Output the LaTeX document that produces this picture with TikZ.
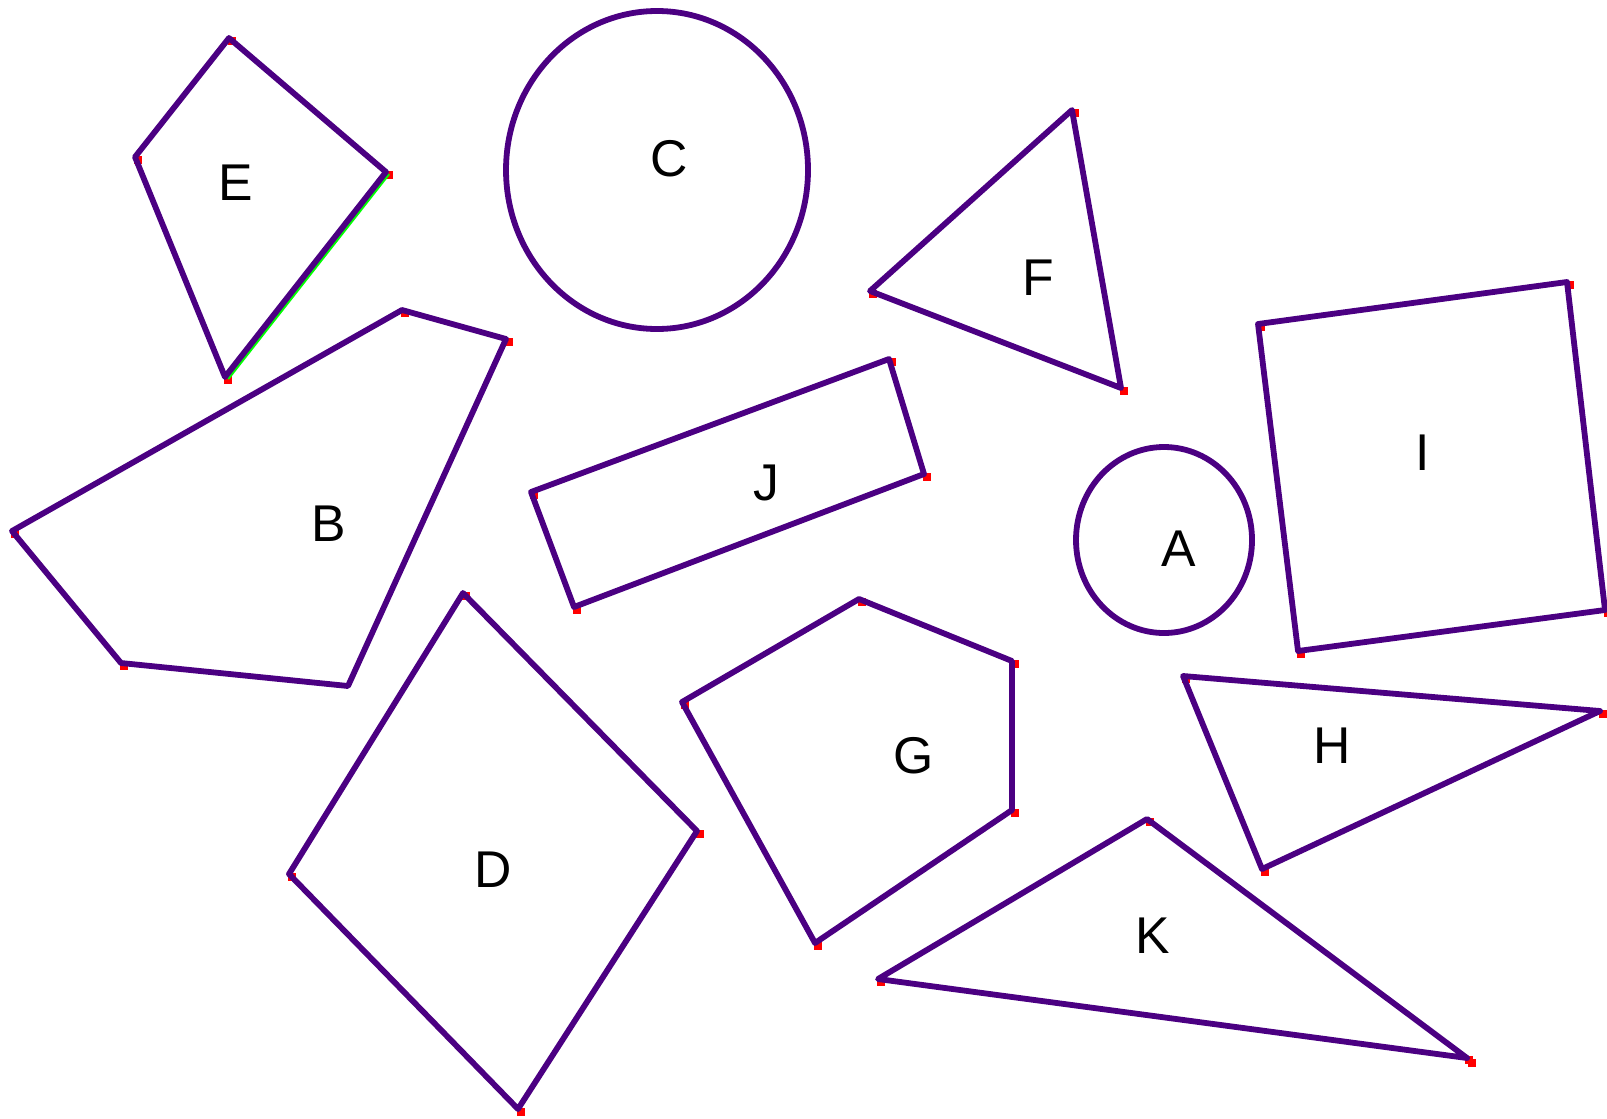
\documentclass[tikz,border=0pt]{standalone}
\usepackage{fontspec}
\setmainfont{Liberation Sans}
\definecolor{edgeviolet}{HTML}{4B0082}
\definecolor{markred}{HTML}{FF0000}
\definecolor{hilite}{HTML}{00FF00}
\tikzset{
  outline/.style={draw=edgeviolet, line width=1.65pt, line join=round},
  vmark/.style={fill=markred},
  tag/.style={font=\fontsize{14.7}{16}\selectfont, inner sep=0pt}
}

\begin{document}
\begin{tikzpicture}[x=0.01cm, y=-0.01cm]
    \useasboundingbox (0,0) rectangle (1607,1118);

    % Vertex markers
    \foreach \x/\y in {229/38, 135/157, 225/377, 386/172,
                       12/531, 402/310, 506/339, 121/663,
                       1072/110, 870/291, 1121/388,
                       1258/324, 1567/282, 1605/610, 1298/651,
                       1183/676, 1600/711, 1262/869,
                       1147/819, 878/979, 1469/1060, 1466/1057,
                       859/599, 682/702, 815/943, 1012/810, 1012/661,
                       463/593, 289/874, 518/1109, 697/831,
                       531/492, 889/359, 924/474, 574/607}
        \fill[vmark] (\x-1.5,\y-1.5) rectangle ++(8,8);

    % Highlighted edge
    \draw[hilite, line width=0.7pt] (228,379) -- (389,174);

    % Define the shapes
    \draw[outline] (229,38) -- (135,157) -- (225,377) -- (386,172) -- cycle;
    \draw[outline] (657,170) ellipse [x radius=151, y radius=159];
    \draw[outline] (12,531) -- (402,310) -- (506,339) -- (348,686) -- (121,663) -- cycle;
    \draw[outline] (1072,110) -- (870,291) -- (1121,388) -- cycle;
    \draw[outline] (1258,324) -- (1567,282) -- (1605,610) -- (1298,651) -- cycle;
    \draw[outline] (1164,540) ellipse [x radius=88, y radius=93];
    \draw[outline] (531,492) -- (889,359) -- (924,474) -- (574,607) -- cycle;
    \draw[outline] (859,599) -- (682,702) -- (815,943) -- (1012,810) -- (1012,661) -- cycle;
    \draw[outline] (463,593) -- (289,874) -- (518,1109) -- (697,831) -- cycle;
    \draw[outline] (1183,676) -- (1600,711) -- (1262,869) -- cycle;
    \draw[outline] (1147,819) -- (878,979) -- (1467,1058) -- cycle;

    % Define the labels
    \node[tag] (labA) at (1179,549) {A};
    \node[tag] (labB) at (329,524) {B};
    \node[tag] (labC) at (669,159) {C};
    \node[tag] (labD) at (493,870) {D};
    \node[tag] (labE) at (236,183) {E};
    \node[tag] (labF) at (1038,278) {F};
    \node[tag] (labG) at (914,756) {G};
    \node[tag] (labH) at (1332,746) {H};
    \node[tag] (labI) at (1423,453) {I};
    \node[tag] (labJ) at (766,483) {J};
    \node[tag] (labK) at (1153,936) {K};
\end{tikzpicture}
\end{document}
